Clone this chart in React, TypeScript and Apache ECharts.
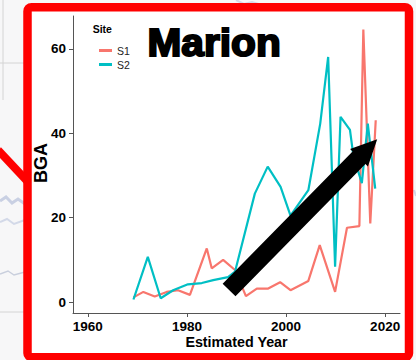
import React, { useEffect, useRef } from "react";
import * as echarts from "echarts";

// Site S1 (estimated year, BGA)
const s1Years = [1969.2, 1971.2, 1973.5, 1975.9, 1978.2, 1980.6, 1984.0, 1985.0, 1987.3, 1989.7, 1991.9, 1994.1, 1996.4, 1998.8, 2000.9, 2004.5, 2006.8, 2009.9, 2012.3, 2014.8, 2015.6, 2017.0, 2018.1];
const s1Values = [1.1, 2.4, 1.3, 2.4, 2.8, 1.7, 12.7, 8.0, 10.0, 7.6, 1.4, 3.2, 3.2, 4.7, 2.8, 5.0, 13.5, 2.4, 17.6, 18.0, 64.6, 18.6, 43.1];

// Site S2 (estimated year, BGA)
const s2Years = [1969.2, 1972.1, 1974.7, 1977.2, 1980.2, 1983.0, 1985.3, 1988.3, 1989.7, 1993.7, 1996.3, 1998.9, 2000.9, 2004.5, 2006.9, 2008.5, 2009.9, 2011.0, 2012.9, 2013.6, 2015.3, 2016.5, 2018.0];
const s2Values = [0.6, 10.7, 0.9, 2.8, 4.2, 4.5, 5.2, 5.9, 7.2, 25.7, 32.1, 27.3, 20.5, 26.5, 42.3, 58.1, 8.4, 43.9, 40.8, 34.6, 28.2, 42.3, 26.9];

const siteNames = ["S1", "S2"];
const siteColors = ["#F8766D", "#00BFC4"];

const xTicks = [1960, 1980, 2000, 2020];
const yTicks = [0, 20, 40, 60];

// Trend arrow, in data coordinates (year, BGA)
const arrowFrom = [1988.5, 2.85];
const arrowTo = [2018.4, 38.6];

const FONT = '"Liberation Sans", Arial, Helvetica, sans-serif';

function pairs(xs: number[], ys: number[]) {
  return xs.map((x, i) => [x, ys[i]]);
}

export default function App() {
  const ref = useRef<HTMLDivElement>(null);

  useEffect(() => {
    const chart = echarts.init(ref.current!, null, { renderer: "svg" });

    const axisCommon = {
      type: "value",
      splitLine: { show: false },
      axisLine: { show: true, onZero: false, lineStyle: { color: "#555", width: 1 } },
    };
    const labelCommon = {
      color: "#000",
      fontWeight: "bold",
      fontSize: 13.5,
      fontFamily: FONT,
      formatter: (v: number) => String(v),
    };

    chart.setOption({
      animation: false,
      backgroundColor: "#f7f7f8",
      grid: { left: 73, right: 16, top: 16, bottom: 47 },
      xAxis: {
        ...axisCommon,
        min: 1957,
        max: 2023,
        axisTick: { show: true, length: 4, customValues: xTicks, lineStyle: { color: "#555" } },
        axisLabel: { ...labelCommon, customValues: xTicks, margin: 6 },
      },
      yAxis: {
        ...axisCommon,
        min: -2.6,
        max: 67.8,
        axisTick: { show: true, length: 4, customValues: yTicks, lineStyle: { color: "#555" } },
        axisLabel: { ...labelCommon, customValues: yTicks, margin: 7 },
      },
      legend: {
        data: siteNames,
        orient: "vertical",
        left: 94,
        top: 40,
        itemWidth: 13,
        itemHeight: 3,
        itemGap: 3,
        icon: "rect",
        selectedMode: false,
        textStyle: { fontSize: 10.5, color: "#222", fontFamily: FONT },
      },
      series: [
        {
          name: siteNames[0],
          type: "line",
          data: pairs(s1Years, s1Values),
          showSymbol: false,
          symbol: "none",
          color: siteColors[0],
          lineStyle: { width: 2.2, color: siteColors[0] },
          z: 3,
        },
        {
          name: siteNames[1],
          type: "line",
          data: pairs(s2Years, s2Values),
          showSymbol: false,
          symbol: "none",
          color: siteColors[1],
          lineStyle: { width: 2.2, color: siteColors[1] },
          z: 4,
        },
        {
          type: "custom",
          silent: true,
          clip: false,
          z: 10,
          data: [[arrowFrom[0], arrowFrom[1], arrowTo[0], arrowTo[1]]],
          encode: { x: [0, 2], y: [1, 3] },
          renderItem: (_params: any, api: any) => {
            const a = api.coord([api.value(0), api.value(1)]);
            const b = api.coord([api.value(2), api.value(3)]);
            const dx = b[0] - a[0];
            const dy = b[1] - a[1];
            const len = Math.hypot(dx, dy);
            const ux = dx / len;
            const uy = dy / len;
            const nx = -uy;
            const ny = ux;
            const hw = 9;
            const hh = 12.5;
            const hl = 26;
            const bx = b[0] - ux * hl;
            const by = b[1] - uy * hl;
            const pts = [
              [a[0] + nx * hw, a[1] + ny * hw],
              [bx + nx * hw, by + ny * hw],
              [bx + nx * hh, by + ny * hh],
              [b[0], b[1]],
              [bx - nx * hh, by - ny * hh],
              [bx - nx * hw, by - ny * hw],
              [a[0] - nx * hw, a[1] - ny * hw],
            ];
            return { type: "polygon", shape: { points: pts }, style: { fill: "#000" } };
          },
        },
      ],
      graphic: [
        // faint map lines behind the panel
        { type: "line", z: -20, shape: { x1: 3, y1: 0, x2: 3, y2: 100 }, style: { stroke: "#d4d4d4", lineWidth: 1 } },
        { type: "line", z: -20, shape: { x1: 0, y1: 63, x2: 24, y2: 63 }, style: { stroke: "#d4d4d4", lineWidth: 1 } },
        { type: "line", z: -20, shape: { x1: 0, y1: 312, x2: 24, y2: 312 }, style: { stroke: "#d4d4d4", lineWidth: 1 } },
        { type: "polyline", z: -20, shape: { points: [[0, 201], [6, 197], [12, 203], [18, 199], [25, 204]] }, style: { stroke: "#c9d0e3", lineWidth: 3, fill: "none" } },
        { type: "polyline", z: -20, shape: { points: [[0, 222], [7, 219], [14, 224], [25, 220]] }, style: { stroke: "#d3d9e8", lineWidth: 2, fill: "none" } },
        { type: "polyline", z: -20, shape: { points: [[0, 274], [8, 271], [14, 275], [25, 272]] }, style: { stroke: "#c9cfdd", lineWidth: 1.5, fill: "none" } },
        { type: "polyline", z: -20, shape: { points: [[236, 0], [244, 4], [252, 2], [262, 5]] }, style: { stroke: "#d3d9e8", lineWidth: 2, fill: "none" } },
        { type: "polyline", z: -20, shape: { points: [[414, 190], [416, 196]] }, style: { stroke: "#cdd5e6", lineWidth: 2, fill: "none" } },
        // red callout line and frame
        { type: "line", z: -15, shape: { x1: -2, y1: 150, x2: 28, y2: 182 }, style: { stroke: "#ff0000", lineWidth: 8 } },
        {
          type: "rect",
          z: -10,
          shape: { x: 27.5, y: 7.2, width: 381.5, height: 350, r: 4 },
          style: { fill: "#ffffff", stroke: "#ff0000", lineWidth: 8.5, lineJoin: "round" },
        },
        // title
        {
          type: "text",
          z: 100,
          x: 147.5,
          y: 42,
          scaleX: 1.07,
          style: {
            text: "Marion",
            font: `bold 38px ${FONT}`,
            fill: "#000",
            stroke: "#000",
            lineWidth: 2,
            align: "left",
            verticalAlign: "middle",
          },
        },
        // legend title
        {
          type: "text",
          z: 100,
          x: 92.7,
          y: 28.5,
          style: { text: "Site", font: `bold 10.5px ${FONT}`, fill: "#000", align: "left", verticalAlign: "middle" },
        },
        // axis titles
        {
          type: "text",
          z: 100,
          x: 40.5,
          y: 163,
          rotation: Math.PI / 2,
          style: { text: "BGA", font: `bold 18px ${FONT}`, fill: "#000", align: "center", verticalAlign: "middle" },
        },
        {
          type: "text",
          z: 100,
          x: 236.5,
          y: 342,
          style: { text: "Estimated Year", font: `bold 14.3px ${FONT}`, fill: "#000", align: "center", verticalAlign: "middle" },
        },
      ],
    });

    return () => chart.dispose();
  }, []);

  return (
    <div
      ref={ref}
      style={{ position: "fixed", left: 0, top: 0, width: 416, height: 360 }}
    />
  );
}
